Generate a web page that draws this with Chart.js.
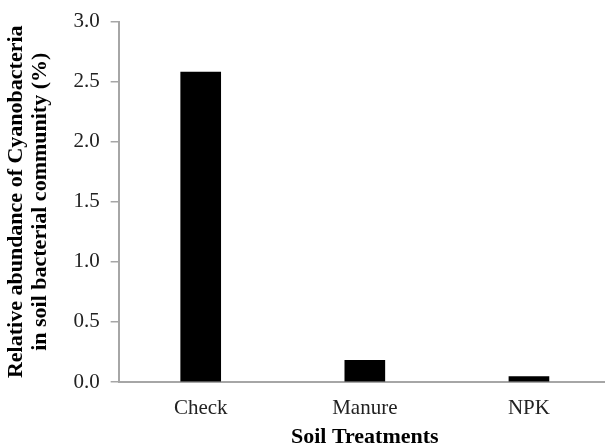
<!DOCTYPE html>
<html>
<head>
<meta charset="utf-8">
<script src="https://cdn.jsdelivr.net/npm/chart.js@4/dist/chart.umd.min.js"></script>
<style>
  html, body { margin: 0; padding: 0; background: #fff; overflow: hidden; }
  #wrap { width: 620px; height: 448px; }
</style>
</head>
<body>
<div id="wrap"><canvas id="chart" width="620" height="448"></canvas></div>
<script>
// ==== Données
const treatments = ["Check", "Manure", "NPK"];
const abundance = [2.58, 0.18, 0.045];
const yTitle = ["Relative abundance of Cyanobacteria", "in soil bacterial community (%)"];
const xTitle = "Soil Treatments";

const FONT = "'Liberation Serif', 'Times New Roman', serif";
const AXIS = "#a6a6a6";

const ctx = document.getElementById("chart").getContext("2d");
new Chart(ctx, {
  type: "bar",
  data: {
    labels: treatments,
    datasets: [
      {
        data: abundance,
        backgroundColor: "#000000",
        borderWidth: 0,
        barThickness: 40,
      },
    ],
  },
  options: {
    responsive: false,
    animation: false,
    layout: { padding: { top: 5, right: 9, left: 4, bottom: 0 } },
    plugins: { legend: { display: false }, tooltip: { enabled: false } },
    scales: {
      x: {
        grid: { display: false, drawTicks: false },
        border: { color: AXIS, width: 2 },
        ticks: { color: "#222", font: { family: FONT, size: 21, lineHeight: 1.0 }, padding: 16 },
        title: {
          display: true,
          text: xTitle,
          color: "#000",
          font: { family: FONT, size: 22, weight: "bold", lineHeight: 1.0 },
          padding: { top: 4, bottom: 0 },
        },
        afterFit: (scale) => { scale.height = 66; },
      },
      y: {
        min: 0,
        max: 3,
        ticks: {
          stepSize: 0.5,
          color: "#222",
          font: { family: FONT, size: 21, lineHeight: 1.0 },
          padding: 11,
          callback: (v) => v.toFixed(1),
        },
        grid: { drawOnChartArea: false, tickLength: 8, color: AXIS, lineWidth: 1.5 },
        border: { color: AXIS, width: 2 },
        title: {
          display: true,
          text: yTitle,
          color: "#000",
          font: { family: FONT, size: 22, weight: "bold", lineHeight: 1.1 },
          padding: { top: 0, bottom: 10 },
        },
      },
    },
  },
});
</script>
</body>
</html>
